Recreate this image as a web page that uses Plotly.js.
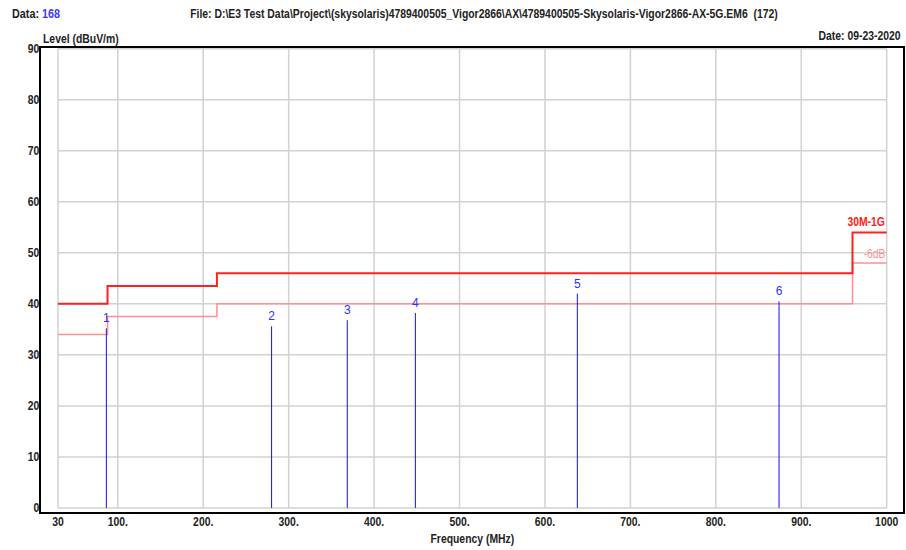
<!DOCTYPE html>
<html>
<head>
<meta charset="utf-8">
<script src="https://cdn.plot.ly/plotly-3.0.1.min.js"></script>
<style>
html,body{margin:0;padding:0;background:#fff;}
#chart{width:906px;height:550px;}
</style>
</head>
<body>
<div id="chart"></div>
<script>
// ---- data ----
const limitFreq = [30, 88, 216, 960, 1000];
const limitLevel = [40, 43.5, 46, 54, 54];
const marginFreq = [30, 88, 216, 960, 1000];
const marginLevel = [34, 37.5, 40, 48, 48];
const markerFreq = [86.6, 280, 368.6, 448.3, 637.9, 874];
const markerLevel = [35.2, 35.6, 36.8, 38.2, 42.0, 40.5];
const markerLabels = ["1", "2", "3", "4", "5", "6"];
const xTickVals = [30, 100, 200, 300, 400, 500, 600, 700, 800, 900, 1000];
const xTickText = ["30", "100.", "200.", "300.", "400.", "500.", "600.", "700.", "800.", "900.", "1000"];
const yTickVals = [0, 10, 20, 30, 40, 50, 60, 70, 80, 90];
const limitName = "30M-1G";
const marginName = "-6dB";
const dataNo = "168";
const fileText = "File: D:\\E3 Test Data\\Project\\(skysolaris)4789400505_Vigor2866\\AX\\4789400505-Skysolaris-Vigor2866-AX-5G.EM6  (172)";
const dateText = "Date: 09-23-2020";

const FONT = "'Liberation Sans', Arial, sans-serif";
const NARROW = 0.8; // horizontal squeeze to imitate a narrow face
const xMin = xTickVals[0], xMax = xTickVals[xTickVals.length - 1];
const yMin = yTickVals[0], yMax = yTickVals[yTickVals.length - 1];

// grid shapes (only within the 30..1000 / 0..90 box)
const shapes = [];
xTickVals.forEach(v => shapes.push({type:'line', xref:'x', yref:'y', x0:v, x1:v, y0:yMin, y1:yMax,
  line:{color:'#d2d2d2', width:1.5}, layer:'below'}));
yTickVals.forEach(v => shapes.push({type:'line', xref:'x', yref:'y', x0:xMin, x1:xMax, y0:v, y1:v,
  line:{color:'#d2d2d2', width:1.5}, layer:'below'}));

// marker lines
const mx = [], my = [];
markerFreq.forEach((f, i) => { mx.push(f, f, null); my.push(0, markerLevel[i], null); });

const traces = [
  {x: marginFreq, y: marginLevel, mode:'lines', line:{shape:'hv', color:'#ff9090', width:1.5}, hoverinfo:'skip'},
  {x: limitFreq, y: limitLevel, mode:'lines', line:{shape:'hv', color:'#ff2020', width:2}, hoverinfo:'skip'},
  {x: mx, y: my, mode:'lines', line:{color:'#1010f0', width:1}, hoverinfo:'skip'},
  {x: markerFreq, y: markerLevel, mode:'text', text: markerLabels, textposition:'top center',
   textfont:{family:"'Liberation Sans', Arial, sans-serif", size:12, color:'#3030ff'}, hoverinfo:'skip'}
];

const tf = {family:FONT, size:13, color:'#222', weight:'bold'};
const layout = {
  width:906, height:550,
  margin:{l:41, r:3, t:48, b:38},
  paper_bgcolor:'#fff', plot_bgcolor:'#fff',
  showlegend:false,
  font:{family:FONT, size:13, color:'#222'},
  xaxis:{range:[10.1, 1019.1], tickvals:xTickVals, ticktext:xTickText, showgrid:false, zeroline:false,
    showline:true, mirror:true, linecolor:'#000', linewidth:2, ticks:'', tickfont:tf},
  yaxis:{range:[-0.8, 90.15], tickvals:yTickVals, showgrid:false, zeroline:false,
    showline:true, mirror:true, linecolor:'#000', linewidth:2, ticks:'', tickfont:tf},
  shapes: shapes,
  annotations:[
    {xref:'x', yref:'y', x:xMax, y:54, xanchor:'right', yanchor:'bottom', yshift:1, name:'r',
     text:'<b>'+limitName+'</b>', showarrow:false, font:{family:FONT, size:13, color:'#ff2020'}},
    {xref:'x', yref:'y', x:xMax, y:48, xanchor:'right', yanchor:'bottom', yshift:0, name:'r',
     text:marginName, showarrow:false, font:{family:FONT, size:13, color:'#ff9090'}},
    {xref:'paper', yref:'paper', x:0, y:1, xshift:-31, yshift:35, xanchor:'left', yanchor:'middle', name:'l',
     text:'<b>Data: <span style="color:#3a3aff">'+dataNo+'</span></b>', showarrow:false, font:{family:FONT, size:13.5, color:'#222'}},
    {xref:'paper', yref:'paper', x:0, y:1, xshift:147, yshift:35, xanchor:'left', yanchor:'middle', name:'l',
     text:'<b>'+fileText+'</b>', showarrow:false, font:{family:FONT, size:13, color:'#222'}},
    {xref:'paper', yref:'paper', x:1, y:1, xshift:0, yshift:13, xanchor:'right', yanchor:'middle', name:'r',
     text:'<b>'+dateText+'</b>', showarrow:false, font:{family:FONT, size:13, color:'#222'}},
    {xref:'paper', yref:'paper', x:0, y:1, xshift:0, yshift:10, xanchor:'left', yanchor:'middle', name:'l',
     text:'<b>Level (dBuV/m)</b>', showarrow:false, font:{family:FONT, size:13, color:'#222'}},
    {xref:'paper', yref:'paper', x:0.5, y:0, yshift:-26, xshift:0, xanchor:'center', yanchor:'middle', name:'c',
     text:'<b>Frequency (MHz)</b>', showarrow:false, font:{family:FONT, size:13, color:'#222'}}
  ]
};

function squeeze(el, mode, dx, dy) {
  const b = el.getBBox();
  const x0 = mode === 'l' ? b.x : (mode === 'r' ? b.x + b.width : b.x + b.width / 2);
  const prev = el.getAttribute('transform') || '';
  el.setAttribute('transform', prev + ` translate(${dx || 0},${dy || 0}) translate(${x0},0) scale(${NARROW},1) translate(${-x0},0)`);
}

Plotly.newPlot('chart', traces, layout, {staticPlot:true, displayModeBar:false}).then(gd => {
  gd.querySelectorAll('.xtick text').forEach(t => squeeze(t, 'c', 0, -4));
  gd.querySelectorAll('.ytick text').forEach(t => squeeze(t, 'r', 3, 0));
  gd.querySelectorAll('.textpoint text').forEach(t => {
    const prev = t.getAttribute('transform') || '';
    t.setAttribute('transform', prev + ' translate(0,-3)');
  });
  const anns = gd.querySelectorAll('.annotation');
  anns.forEach((a, i) => {
    const t = a.querySelector('.annotation-text');
    if (t) squeeze(t, layout.annotations[i].name);
  });
});
</script>
</body>
</html>
